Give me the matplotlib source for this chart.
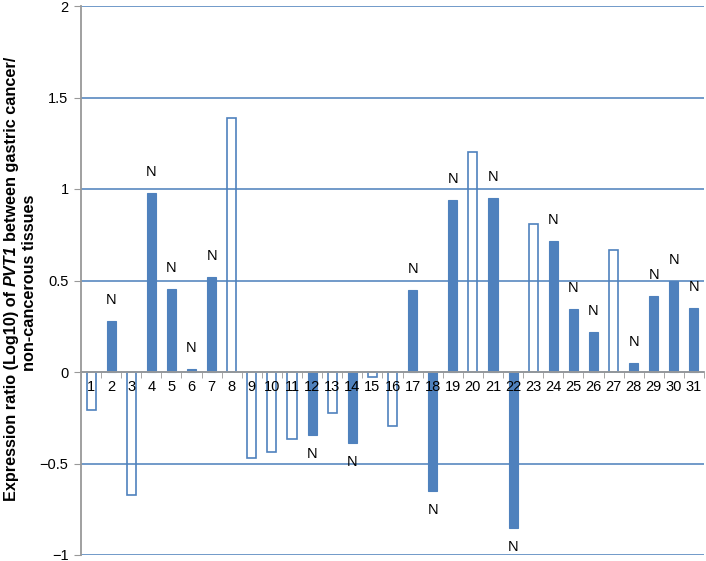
import matplotlib
matplotlib.use("Agg")
import matplotlib.pyplot as plt
from matplotlib.transforms import IdentityTransform

samples = [str(i) for i in range(1, 32)]
values = [-0.207, 0.278, -0.67, 0.98, 0.455, 0.015, 0.52, 1.39,
          -0.47, -0.435, -0.365, -0.343, -0.224, -0.387, -0.03, -0.295,
          0.45, -0.65, 0.94, 1.20, 0.95, -0.85, 0.81, 0.715,
          0.343, 0.218, 0.665, 0.05, 0.414, 0.497, 0.35]
# True = filled bar marked "N", False = hollow bar
marked = [False, True, False, True, True, True, True, False,
          False, False, False, True, False, True, False, False,
          True, True, True, False, True, True, False, True,
          True, True, False, True, True, True, True]
yticks = [-1, -0.5, 0, 0.5, 1, 1.5, 2]
ytick_labels = ["\u22121", "\u22120.5", "0", "0.5", "1", "1.5", "2"]
label_parts = [("Expression ratio (Log10) of", "normal"),
               ("PVT1", "italic"),
               ("between gastric cancer/", "normal")]
label_line2 = "non-cancerous tissues"

plt.rcParams['font.family'] = ['Liberation Sans', 'DejaVu Sans']

blue = '#4F81BD'
grid_c = '#4A7EBB'

fig = plt.figure(figsize=(7.06, 5.61), dpi=100)
ax = fig.add_axes([81/706, 6/561, (704-81)/706, (555-6)/561])

x = list(range(1, 32))
w = 0.45
for xi, v, m in zip(x, values, marked):
    if m:
        ax.bar(xi, v, width=w, color=blue, edgecolor=blue, linewidth=0.8, zorder=3)
    else:
        ax.bar(xi, v, width=w, facecolor='none', edgecolor=blue, linewidth=1.2, zorder=3)

for xi, v, m in zip(x, values, marked):
    if m:
        if v >= 0:
            ax.annotate('N', (xi, v), xytext=(0, 10), textcoords='offset points',
                        ha='center', va='bottom', fontsize=10.5)
        else:
            ax.annotate('N', (xi, v), xytext=(0, -9), textcoords='offset points',
                        ha='center', va='top', fontsize=10.5)

ax.set_xlim(0.5, 31.5)
ax.set_ylim(-1, 2)
ax.set_yticks(yticks)
ax.set_yticklabels(ytick_labels, fontsize=10.5)
ax.yaxis.grid(True, color=grid_c, linewidth=1.1)
ax.set_axisbelow(True)
ax.xaxis.set_zorder(5)

ax.spines['top'].set_visible(False)
ax.spines['right'].set_visible(False)
ax.spines['left'].set_color('#999999')
ax.spines['left'].set_linewidth(1.3)
ax.spines['bottom'].set_position(('data', 0))
ax.spines['bottom'].set_color('#999999')
ax.spines['bottom'].set_linewidth(1.3)
ax.spines['bottom'].set_zorder(4)

ax.set_xticks(x)
ax.set_xticklabels(samples, fontsize=10.5)
ax.set_xticks([i + 0.5 for i in range(0, 32)], minor=True)
ax.tick_params(axis='x', which='major', length=0, pad=6)
ax.tick_params(axis='x', which='minor', length=4, color='#999999', direction='out')
ax.tick_params(axis='y', length=5, color='#999999', pad=4)

# --- y-axis label built from pieces (bold, with italic gene name) ---
fs = 11.7
H = 561
renderer = fig.canvas.get_renderer()
def measure(s, style):
    t = fig.text(0, 0, s, fontsize=fs, fontweight='bold', fontstyle=style,
                 transform=IdentityTransform())
    wdt = t.get_window_extent(renderer).width
    t.remove()
    return wdt
space = measure("a a", "normal") - measure("aa", "normal")
widths = [measure(s, st) for s, st in label_parts]
total = sum(widths) + space * (len(widths) - 1)
center1 = H - 279
ypos = center1 - total / 2
x1 = 16
for (s, st), wdt in zip(label_parts, widths):
    fig.text(x1, ypos, s, fontsize=fs, fontweight='bold', fontstyle=st,
             rotation=90, rotation_mode='anchor', ha='left', va='baseline',
             transform=IdentityTransform())
    ypos += wdt + space
fig.text(34, H - 283, label_line2, fontsize=fs, fontweight='bold',
         rotation=90, rotation_mode='anchor', ha='center', va='baseline',
         transform=IdentityTransform())

fig.savefig('out.png', dpi=100)
